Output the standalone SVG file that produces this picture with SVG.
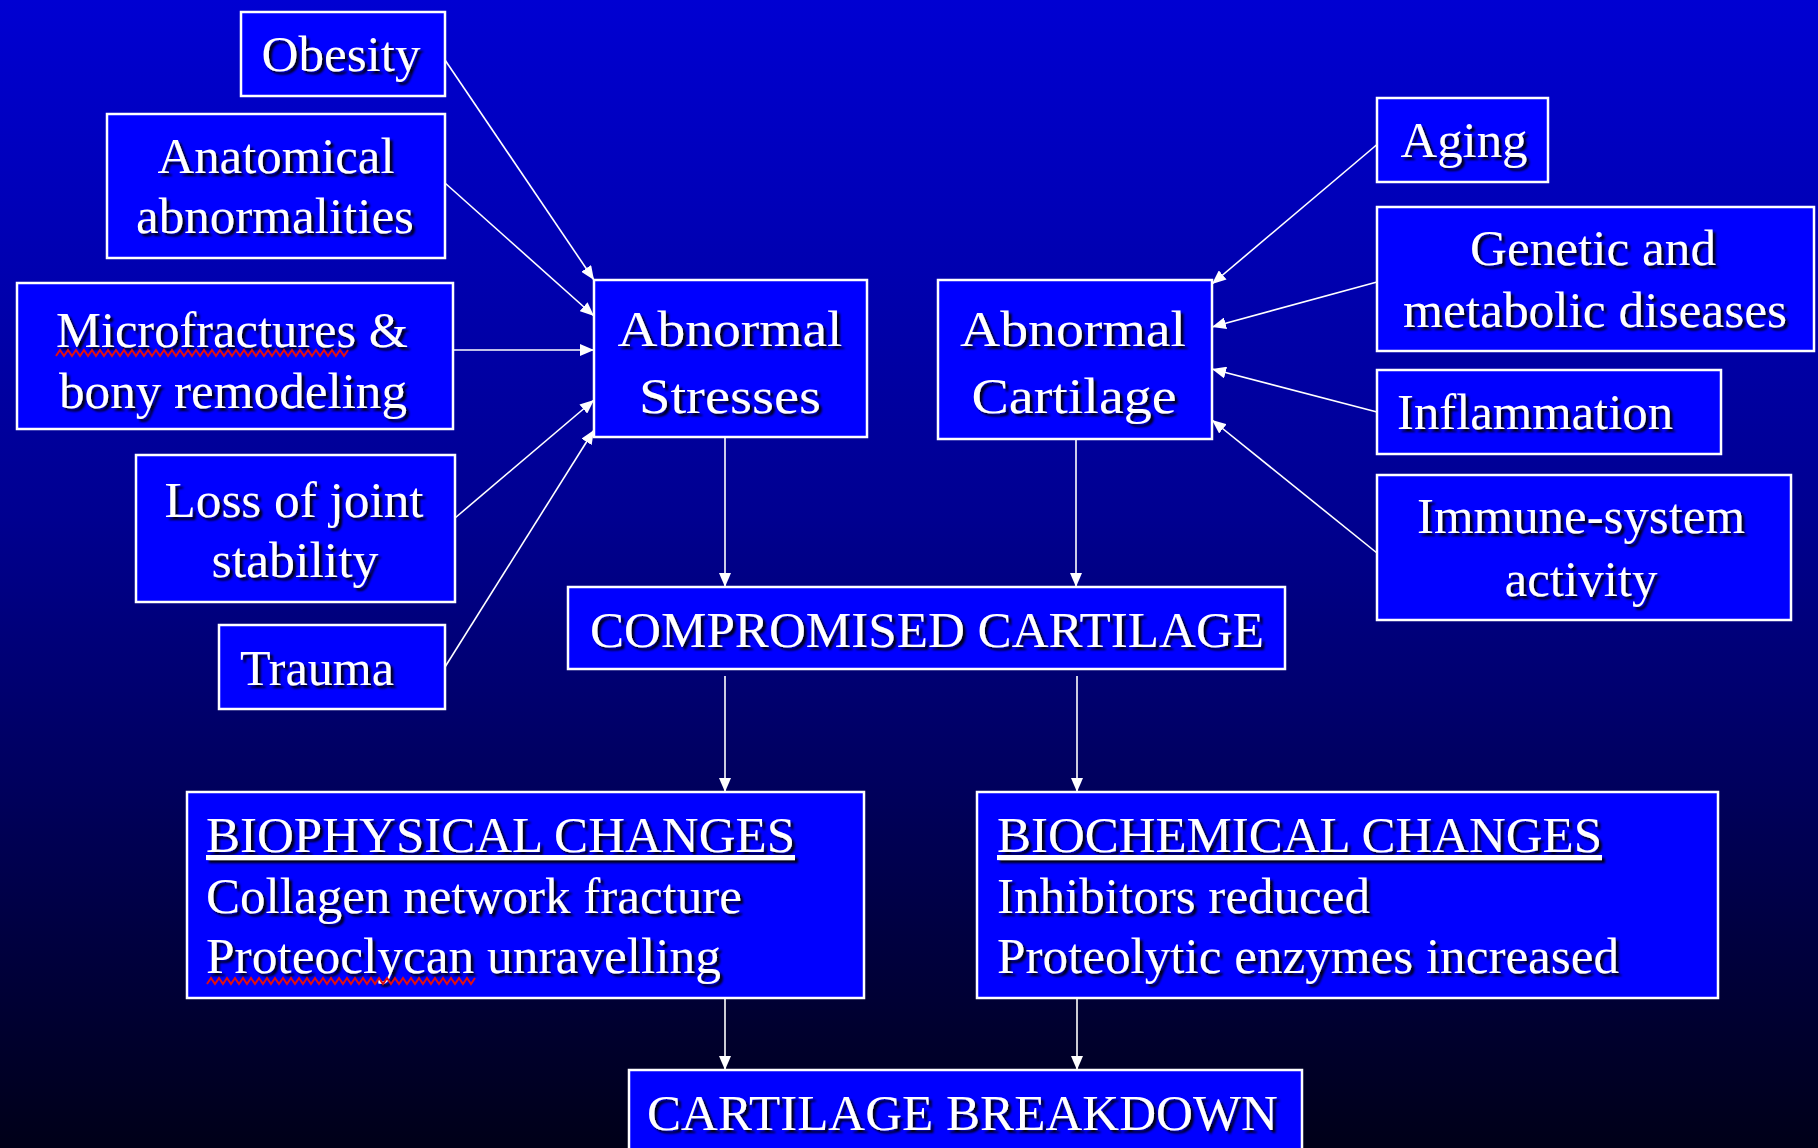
<svg xmlns="http://www.w3.org/2000/svg" width="1818" height="1148" viewBox="0 0 1818 1148">
<defs>
<linearGradient id="bg" x1="0" y1="0" x2="0" y2="1">
<stop offset="0" stop-color="#0000d2"/>
<stop offset="0.45" stop-color="#000090"/>
<stop offset="1" stop-color="#000018"/>
</linearGradient>
<filter id="sh" x="-10%" y="-20%" width="120%" height="150%">
<feDropShadow dx="3" dy="3" stdDeviation="1" flood-color="#000000" flood-opacity="0.9"/>
</filter>
<marker id="ah" viewBox="0 0 14 12" refX="14" refY="6" markerWidth="14" markerHeight="12" markerUnits="userSpaceOnUse" orient="auto">
<path d="M0,0 L14,6 L0,12 Z" fill="#ffffff"/>
</marker>
</defs>
<style>
.box{fill:#0000ff;stroke:#ffffff;stroke-width:2.5}
.t{font-family:"Liberation Serif","Times New Roman",serif;font-size:51px;fill:#ffffff;filter:url(#sh)}
.c{text-anchor:middle}
.ln{stroke:#ffffff;stroke-width:1.6;fill:none}
.wav{stroke:#e01010;stroke-width:2;fill:none}
</style>
<rect x="0" y="0" width="1818" height="1148" fill="url(#bg)"/>

<g id="connectors">
<line class="ln" x1="445" y1="60" x2="594" y2="280" marker-end="url(#ah)"/>
<line class="ln" x1="445" y1="183" x2="594" y2="316" marker-end="url(#ah)"/>
<line class="ln" x1="453" y1="350" x2="594" y2="350" marker-end="url(#ah)"/>
<line class="ln" x1="455" y1="518" x2="594" y2="400" marker-end="url(#ah)"/>
<line class="ln" x1="445" y1="667" x2="594" y2="430" marker-end="url(#ah)"/>
<line class="ln" x1="1380" y1="142" x2="1212" y2="284" marker-end="url(#ah)"/>
<line class="ln" x1="1377" y1="282" x2="1212" y2="327" marker-end="url(#ah)"/>
<line class="ln" x1="1377" y1="412" x2="1212" y2="369" marker-end="url(#ah)"/>
<line class="ln" x1="1377" y1="553" x2="1212" y2="420" marker-end="url(#ah)"/>
<line class="ln" x1="725" y1="437" x2="725" y2="587" marker-end="url(#ah)"/>
<line class="ln" x1="1076" y1="439" x2="1076" y2="587" marker-end="url(#ah)"/>
<line class="ln" x1="725" y1="676" x2="725" y2="792" marker-end="url(#ah)"/>
<line class="ln" x1="1077" y1="676" x2="1077" y2="792" marker-end="url(#ah)"/>
<line class="ln" x1="725" y1="998" x2="725" y2="1070" marker-end="url(#ah)"/>
<line class="ln" x1="1077" y1="998" x2="1077" y2="1070" marker-end="url(#ah)"/>
</g>

<g id="obesity">
<rect class="box" x="241" y="12" width="204" height="84"/>
<text class="t c" x="341" y="71" textLength="159" lengthAdjust="spacingAndGlyphs">Obesity</text>
</g>
<g id="anatomical">
<rect class="box" x="107" y="114" width="338" height="144"/>
<text class="t c" x="276" y="173" textLength="237" lengthAdjust="spacingAndGlyphs">Anatomical</text>
<text class="t c" x="275" y="233" textLength="278" lengthAdjust="spacingAndGlyphs">abnormalities</text>
</g>
<g id="microfractures">
<rect class="box" x="17" y="283" width="436" height="146"/>
<text class="t c" x="232" y="347" textLength="352" lengthAdjust="spacingAndGlyphs">Microfractures &amp;</text>
<text class="t c" x="233" y="408" textLength="348" lengthAdjust="spacingAndGlyphs">bony remodeling</text>
<path class="wav" d="M56,356 l4,-6 l4,6 l4,-6 l4,6 l4,-6 l4,6 l4,-6 l4,6 l4,-6 l4,6 l4,-6 l4,6 l4,-6 l4,6 l4,-6 l4,6 l4,-6 l4,6 l4,-6 l4,6 l4,-6 l4,6 l4,-6 l4,6 l4,-6 l4,6 l4,-6 l4,6 l4,-6 l4,6 l4,-6 l4,6 l4,-6 l4,6 l4,-6 l4,6 l4,-6 l4,6 l4,-6 l4,6 l4,-6 l4,6 l4,-6 l4,6 l4,-6 l4,6 l4,-6 l4,6 l4,-6 l4,6 l4,-6 l4,6 l4,-6 l4,6 l4,-6 l4,6 l4,-6 l4,6 l4,-6 l4,6 l4,-6 l4,6 l4,-6 l4,6 l4,-6 l4,6 l4,-6 l4,6 l4,-6 l4,6 l4,-6 l4,6 l4,-6"/>
</g>
<g id="loss-joint">
<rect class="box" x="136" y="455" width="319" height="147"/>
<text class="t c" x="294" y="517" textLength="259" lengthAdjust="spacingAndGlyphs">Loss of joint</text>
<text class="t c" x="295" y="577" textLength="167" lengthAdjust="spacingAndGlyphs">stability</text>
</g>
<g id="trauma">
<rect class="box" x="219" y="625" width="226" height="84"/>
<text class="t c" x="317" y="685" textLength="154" lengthAdjust="spacingAndGlyphs">Trauma</text>
</g>
<g id="abnormal-stresses">
<rect class="box" x="594" y="280" width="273" height="157"/>
<text class="t c" x="730" y="346" textLength="225" lengthAdjust="spacingAndGlyphs">Abnormal</text>
<text class="t c" x="730" y="413" textLength="182" lengthAdjust="spacingAndGlyphs">Stresses</text>
</g>
<g id="abnormal-cartilage">
<rect class="box" x="938" y="280" width="274" height="159"/>
<text class="t c" x="1073" y="346" textLength="226" lengthAdjust="spacingAndGlyphs">Abnormal</text>
<text class="t c" x="1074" y="413" textLength="205" lengthAdjust="spacingAndGlyphs">Cartilage</text>
</g>
<g id="aging">
<rect class="box" x="1377" y="98" width="171" height="84"/>
<text class="t c" x="1464" y="157" textLength="127" lengthAdjust="spacingAndGlyphs">Aging</text>
</g>
<g id="genetic">
<rect class="box" x="1377" y="207" width="437" height="144"/>
<text class="t c" x="1593" y="265" textLength="246" lengthAdjust="spacingAndGlyphs">Genetic and</text>
<text class="t c" x="1595" y="327" textLength="384" lengthAdjust="spacingAndGlyphs">metabolic diseases</text>
</g>
<g id="inflammation">
<rect class="box" x="1377" y="370" width="344" height="84"/>
<text class="t c" x="1535" y="429" textLength="276" lengthAdjust="spacingAndGlyphs">Inflammation</text>
</g>
<g id="immune">
<rect class="box" x="1377" y="475" width="414" height="145"/>
<text class="t c" x="1581" y="533" textLength="328" lengthAdjust="spacingAndGlyphs">Immune-system</text>
<text class="t c" x="1581" y="596" textLength="153" lengthAdjust="spacingAndGlyphs">activity</text>
</g>
<g id="compromised">
<rect class="box" x="568" y="587" width="717" height="82"/>
<text class="t c" x="927" y="647" textLength="674" lengthAdjust="spacingAndGlyphs">COMPROMISED CARTILAGE</text>
</g>
<g id="biophysical">
<rect class="box" x="187" y="792" width="677" height="206"/>
<text class="t" x="206" y="852" text-decoration="underline" textLength="589" lengthAdjust="spacingAndGlyphs">BIOPHYSICAL CHANGES</text>
<text class="t" x="206" y="913" textLength="536" lengthAdjust="spacingAndGlyphs">Collagen network  fracture</text>
<text class="t" x="206" y="973" textLength="515" lengthAdjust="spacingAndGlyphs">Proteoclycan unravelling</text>
<path class="wav" d="M207,984 l4,-6 l4,6 l4,-6 l4,6 l4,-6 l4,6 l4,-6 l4,6 l4,-6 l4,6 l4,-6 l4,6 l4,-6 l4,6 l4,-6 l4,6 l4,-6 l4,6 l4,-6 l4,6 l4,-6 l4,6 l4,-6 l4,6 l4,-6 l4,6 l4,-6 l4,6 l4,-6 l4,6 l4,-6 l4,6 l4,-6 l4,6 l4,-6 l4,6 l4,-6 l4,6 l4,-6 l4,6 l4,-6 l4,6 l4,-6 l4,6 l4,-6 l4,6 l4,-6 l4,6 l4,-6 l4,6 l4,-6 l4,6 l4,-6 l4,6 l4,-6 l4,6 l4,-6 l4,6 l4,-6 l4,6 l4,-6 l4,6 l4,-6 l4,6 l4,-6 l4,6 l4,-6"/>
</g>
<g id="biochemical">
<rect class="box" x="977" y="792" width="741" height="206"/>
<text class="t" x="997" y="852" text-decoration="underline" textLength="605" lengthAdjust="spacingAndGlyphs">BIOCHEMICAL CHANGES</text>
<text class="t" x="997" y="913" textLength="373" lengthAdjust="spacingAndGlyphs">Inhibitors reduced</text>
<text class="t" x="997" y="973" textLength="622" lengthAdjust="spacingAndGlyphs">Proteolytic enzymes  increased</text>
</g>
<g id="breakdown">
<rect class="box" x="629" y="1070" width="673" height="100"/>
<text class="t" x="647" y="1130" textLength="631" lengthAdjust="spacingAndGlyphs">CARTILAGE BREAKDOWN</text>
</g>
</svg>
